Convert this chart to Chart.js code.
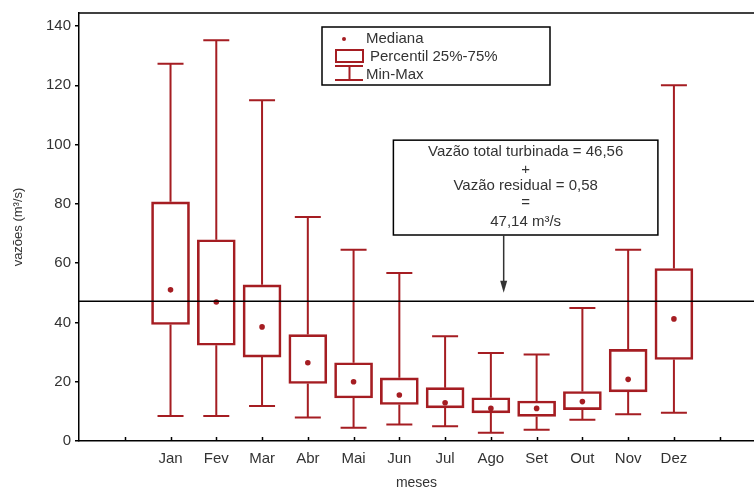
<!DOCTYPE html>
<html>
<head>
<meta charset="utf-8">
<script src="https://cdn.jsdelivr.net/npm/chart.js@4/dist/chart.umd.min.js"></script>
<style>
  html, body { margin: 0; padding: 0; background: #fff; }
  #wrap { width: 754px; height: 488px; }
</style>
</head>
<body>
<div id="wrap"><canvas id="chartVazao"></canvas></div>
<script>
// dados (m3/s)
const meses = ['Jan', 'Fev', 'Mar', 'Abr', 'Mai', 'Jun', 'Jul', 'Ago', 'Set', 'Out', 'Nov', 'Dez'];
const posicoes = [2, 3, 4, 5, 6, 7, 8, 9, 10, 11, 12, 13];
const minimo  = [8.4, 8.4, 11.8, 7.9, 4.5, 5.6, 5.0, 2.8, 3.8, 7.2, 9.0, 9.5];
const p25     = [39.3, 32.3, 28.3, 19.4, 14.5, 12.3, 11.2, 9.5, 8.3, 10.6, 16.6, 27.5];
const mediana = [51.0, 46.9, 38.5, 26.4, 20.0, 15.5, 12.9, 11.0, 11.0, 13.3, 20.8, 41.2];
const p75     = [80.7, 67.9, 52.7, 35.9, 26.4, 21.3, 18.0, 14.6, 13.5, 16.7, 30.9, 58.2];
const maximo  = [127.3, 135.2, 115.0, 75.6, 64.5, 56.7, 35.3, 29.7, 29.2, 44.9, 64.5, 120.0];
const vazaoTotal = 47.14;
const xTickPos = [1, 2, 3, 4, 5, 6, 7, 8, 9, 10, 11, 12, 13, 14];
const xTickLabels = ['', 'Jan', 'Fev', 'Mar', 'Abr', 'Mai', 'Jun', 'Jul', 'Ago', 'Set', 'Out', 'Nov', 'Dez', ''];
const yTicks = [0, 20, 40, 60, 80, 100, 120, 140];

const COR = '#a51d22';
const TXT = '#333';
const FONTE = "'Liberation Sans', Arial, sans-serif";

// whiskers, borda superior, legenda e anotação
const extrasBoxPlot = {
    id: 'extrasBoxPlot',
    beforeDatasetsDraw(chart) {
        const { ctx, scales: { x, y } } = chart;
        ctx.save();
        ctx.strokeStyle = COR;
        ctx.lineWidth = 2;
        posicoes.forEach((p, i) => {
            const px = x.getPixelForValue(p);
            const cap = 13;
            const yMax = y.getPixelForValue(maximo[i]);
            const yMin = y.getPixelForValue(minimo[i]);
            ctx.beginPath();
            ctx.moveTo(px, yMax); ctx.lineTo(px, y.getPixelForValue(p75[i]));
            ctx.moveTo(px, y.getPixelForValue(p25[i])); ctx.lineTo(px, yMin);
            ctx.moveTo(px - cap, yMax); ctx.lineTo(px + cap, yMax);
            ctx.moveTo(px - cap, yMin); ctx.lineTo(px + cap, yMin);
            ctx.stroke();
        });
        ctx.restore();
    },
    afterDraw(chart) {
        const { ctx, chartArea, scales: { x, y } } = chart;
        ctx.save();

        // borda superior
        ctx.strokeStyle = '#000';
        ctx.lineWidth = 1.5;
        ctx.beginPath();
        ctx.moveTo(chartArea.left, chartArea.top);
        ctx.lineTo(chart.width, chartArea.top);
        ctx.stroke();

        // marcas do eixo x para dentro
        ctx.beginPath();
        xTickPos.forEach(v => {
            const px = Math.round(x.getPixelForValue(v)) + 0.5;
            ctx.moveTo(px, chartArea.bottom);
            ctx.lineTo(px, chartArea.bottom - 4);
        });
        ctx.stroke();

        // legenda
        const lg = { x: 322, y: 27, w: 228, h: 58 };
        ctx.fillStyle = '#fff';
        ctx.fillRect(lg.x, lg.y, lg.w, lg.h);
        ctx.strokeStyle = '#000';
        ctx.lineWidth = 1.5;
        ctx.strokeRect(lg.x, lg.y, lg.w, lg.h);

        ctx.fillStyle = COR;
        ctx.beginPath();
        ctx.arc(344, 39, 2, 0, Math.PI * 2);
        ctx.fill();

        ctx.strokeStyle = COR;
        ctx.lineWidth = 2;
        ctx.strokeRect(336, 50, 27, 12);
        ctx.beginPath();
        ctx.moveTo(335, 66); ctx.lineTo(363, 66);
        ctx.moveTo(349.5, 66); ctx.lineTo(349.5, 80);
        ctx.moveTo(335, 80); ctx.lineTo(363, 80);
        ctx.stroke();

        ctx.fillStyle = TXT;
        ctx.font = '15px ' + FONTE;
        ctx.textBaseline = 'middle';
        ctx.textAlign = 'left';
        ctx.fillText('Mediana', 366, 39);
        ctx.fillText('Percentil 25%-75%', 370, 57);
        ctx.fillText('Min-Max', 366, 75);

        // caixa de anotação
        const bx1 = x.getPixelForValue(6.87), bx2 = x.getPixelForValue(12.65);
        const by1 = y.getPixelForValue(101.5), by2 = y.getPixelForValue(69.5);
        ctx.fillStyle = '#fff';
        ctx.fillRect(bx1, by1, bx2 - bx1, by2 - by1);
        ctx.strokeStyle = '#000';
        ctx.lineWidth = 1.5;
        ctx.strokeRect(bx1, by1, bx2 - bx1, by2 - by1);

        const cx = (bx1 + bx2) / 2;
        ctx.fillStyle = TXT;
        ctx.textAlign = 'center';
        ctx.font = '15px ' + FONTE;
        ctx.fillText('Vazão total turbinada = 46,56', cx, by1 + 12);
        ctx.fillText('+', cx, by1 + 30);
        ctx.fillText('Vazão residual = 0,58', cx, by1 + 46);
        ctx.fillText('=', cx, by1 + 63);
        ctx.fillText('47,14 m³/s', cx, by1 + 82);

        // seta
        const ax = x.getPixelForValue(9.28);
        const ayTop = by2;
        const ayTip = y.getPixelForValue(50.0);
        ctx.strokeStyle = '#333';
        ctx.fillStyle = '#333';
        ctx.lineWidth = 1.5;
        ctx.beginPath();
        ctx.moveTo(ax, ayTop);
        ctx.lineTo(ax, ayTip - 10);
        ctx.stroke();
        ctx.beginPath();
        ctx.moveTo(ax - 3.5, ayTip - 12);
        ctx.lineTo(ax + 3.5, ayTip - 12);
        ctx.lineTo(ax, ayTip);
        ctx.closePath();
        ctx.fill();

        ctx.restore();
    }
};

const ctx = document.getElementById('chartVazao').getContext('2d');
new Chart(ctx, {
    type: 'bar',
    data: {
        datasets: [
            {
                type: 'bar',
                label: 'Percentil 25%-75%',
                data: posicoes.map((p, i) => ({ x: p, y: [p25[i], p75[i]] })),
                backgroundColor: 'rgba(0,0,0,0)',
                borderColor: COR,
                borderWidth: 2,
                borderSkipped: false,
                barThickness: 38,
                order: 2
            },
            {
                type: 'scatter',
                label: 'Mediana',
                data: posicoes.map((p, i) => ({ x: p, y: mediana[i] })),
                pointRadius: 2.8,
                pointBackgroundColor: COR,
                pointBorderWidth: 0,
                order: 1
            },
            {
                type: 'line',
                label: 'Vazão total',
                data: [{ x: 0, y: vazaoTotal }, { x: 14.75, y: vazaoTotal }],
                borderColor: '#000',
                borderWidth: 1.5,
                pointRadius: 0,
                order: 0
            }
        ]
    },
    options: {
        responsive: true,
        maintainAspectRatio: false,
        animation: false,
        layout: { autoPadding: false, padding: { top: 12, right: 0, left: 0, bottom: 0 } },
        plugins: {
            legend: { display: false },
            tooltip: { enabled: false }
        },
        scales: {
            x: {
                type: 'linear',
                offset: false,
                min: 0,
                max: 14.75,
                afterBuildTicks: s => { s.ticks = xTickPos.map(v => ({ value: v })); },
                afterFit: s => { s.height = 47; s.paddingRight = 0; },
                ticks: {
                    autoSkip: false,
                    maxRotation: 0,
                    padding: 5,
                    color: TXT,
                    font: { family: FONTE, size: 15 },
                    callback: v => xTickLabels[xTickPos.indexOf(v)] || ''
                },
                grid: { offset: false, display: false, tickLength: 4 },
                border: { color: '#000', width: 1.5 },
                title: {
                    display: true,
                    text: 'meses',
                    color: TXT,
                    font: { family: FONTE, size: 14 },
                    padding: { top: 0, bottom: -4 }
                }
            },
            y: {
                min: 0,
                max: 144.4,
                afterBuildTicks: s => { s.ticks = yTicks.map(v => ({ value: v })); },
                afterFit: s => { s.width = 79; },
                ticks: {
                    padding: 4,
                    color: TXT,
                    font: { family: FONTE, size: 15 }
                },
                grid: { drawOnChartArea: false, tickLength: 4, color: '#000', lineWidth: 1.5 },
                border: { color: '#000', width: 1.5 },
                title: {
                    display: true,
                    text: 'vazões (m³/s)',
                    color: TXT,
                    font: { family: FONTE, size: 13 },
                    padding: { top: 11, bottom: 0 }
                }
            }
        }
    },
    plugins: [extrasBoxPlot]
});
</script>
</body>
</html>
